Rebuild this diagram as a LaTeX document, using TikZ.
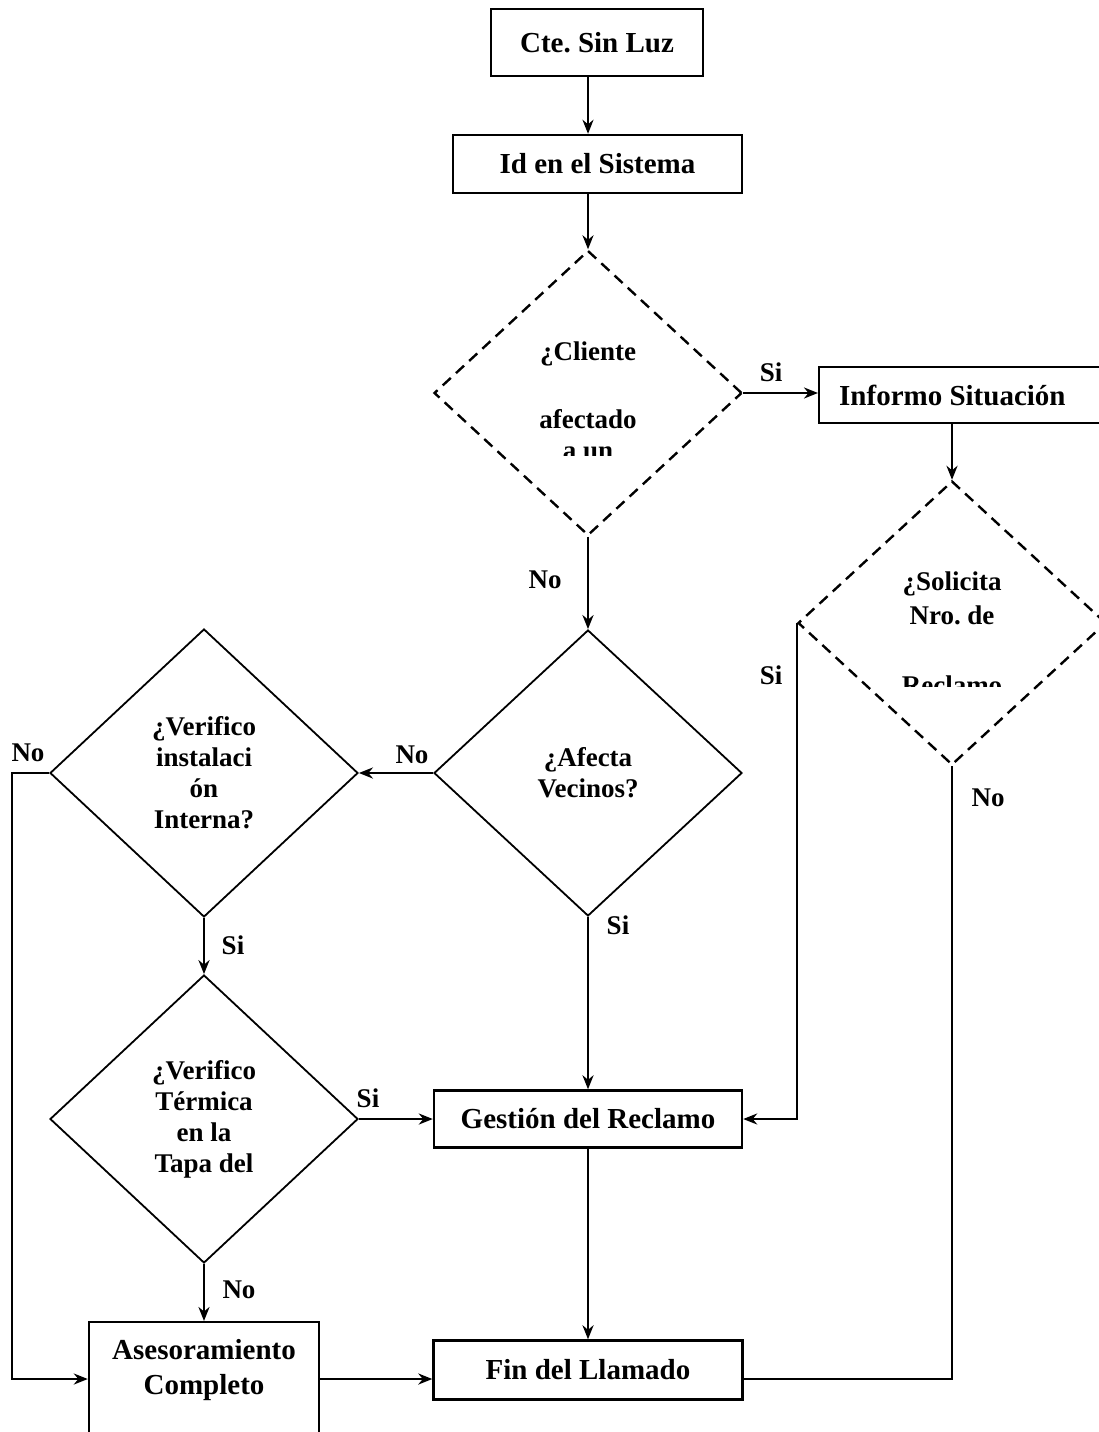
\documentclass[tikz,border=0pt]{standalone}
\usepackage{fontspec}
\setmainfont{Liberation Serif}
\frenchspacing
\usetikzlibrary{shapes.geometric}
\usetikzlibrary{arrows.meta}

\begin{document}
\begin{tikzpicture}[x=1pt, y=-1pt,
        caja/.style={rectangle, draw, line width=2.4pt, inner sep=0pt, align=center,
            font=\fontsize{29}{35}\selectfont\bfseries},
        rombo/.style={diamond, draw, line width=1.8pt, inner sep=0pt, align=center,
            minimum width=308pt, minimum height=286pt,
            font=\fontsize{27}{31}\selectfont\bfseries},
        rombodash/.style={rombo, line width=2.4pt, dash pattern=on 11pt off 7pt},
        txt/.style={inner sep=0pt, align=center, font=\fontsize{27}{31}\selectfont\bfseries},
        flecha/.style={line width=2.4pt, -{Stealth[length=14pt, width=11pt, inset=4.5pt]}},
        linea/.style={line width=2.4pt}]
        \useasboundingbox (0,0) rectangle (1099,1432);

        % Nodes
        \draw (597,42.5)   node(cte)      [caja, minimum width=212pt, minimum height=67pt] {Cte. Sin Luz};
        \draw (597.5,164)  node(id)       [caja, minimum width=289pt, minimum height=58pt] {Id en el Sistema};
        \draw (588,393)    node(cliente)  [rombodash, minimum height=285pt] {};
        \draw (818,395)    node(informo)  [caja, anchor=west, minimum height=56pt, text width=250pt,
            align=flush left, inner xsep=20pt] {Informo Situación};
        \draw (952,623)    node(solicita) [rombodash, minimum height=284pt] {};
        \draw (588,773)    node(afecta)   [rombo] {¿Afecta\\Vecinos?};
        \draw (204,773)    node(instal)   [rombo, minimum height=288pt] {¿Verifico\\instalaci\\ón\\Interna?};
        \draw (204,1119)   node(termica)  [rombo, minimum height=288pt] {¿Verifico\\Térmica\\en la\\Tapa del};
        \draw (588,1119)   node(gestion)  [caja, minimum width=308pt, minimum height=57pt] {Gestión del Reclamo};
        \draw (588,1370)   node(fin)      [caja, minimum width=309pt, minimum height=59pt] {Fin del Llamado};
        \draw (204,1321)   node(aseso)    [caja, anchor=north, minimum width=230pt, inner ysep=17pt]
            {Asesoramiento\\Completo\\[60pt]\mbox{}};

        % Texts cut by the dashed boxes
        \begin{scope}
            \clip (433,250) rectangle (741,455);
            \draw (588,341.5) node(clientetxt) [txt, anchor=north] {¿Cliente\\[37pt]afectado\\a un};
        \end{scope}
        \begin{scope}
            \clip (798,481) rectangle (1099,686);
            \draw (952,571.5) node(solicitatxt) [txt, anchor=north] {¿Solicita\\[3pt]Nro. de\\[39pt]Reclamo};
        \end{scope}

        % Labels
        \draw (771,372)  node(si1) [txt] {Si};
        \draw (545,580)  node(no1) [txt] {No};
        \draw (771,675)  node(si2) [txt] {Si};
        \draw (988,798)  node(no2) [txt] {No};
        \draw (412,755)  node(no3) [txt] {No};
        \draw (618,925)  node(si3) [txt] {Si};
        \draw (28,753)   node(no4) [txt] {No};
        \draw (233,945)  node(si4) [txt] {Si};
        \draw (368,1098) node(si5) [txt] {Si};
        \draw (239,1290) node(no5) [txt] {No};

        \coordinate (nivel) at (0,1379);
        \coordinate (vuelta) at (12,773);

        % Edges
        \draw[flecha] (cliente.north |- cte.south) -- (cliente.north |- id.north);
        \draw[flecha] (cliente.north |- id.south) -- (cliente.north);
        \draw[flecha] (cliente.east) -- (informo.west |- cliente.east);
        \draw[flecha] (solicita.north |- informo.south) -- (solicita.north);
        \draw[flecha] (solicita.west) -- (solicita.west |- gestion.east) -- (gestion.east);
        \draw[linea]  (solicita.south) |- (fin.east |- nivel);
        \draw[flecha] (cliente.south) -- (afecta.north);
        \draw[flecha] (afecta.west) -- (instal.east);
        \draw[flecha] (afecta.south) -- (gestion.north);
        \draw[flecha] (instal.west) -- (vuelta) |- (aseso.west |- nivel);
        \draw[flecha] (instal.south) -- (termica.north);
        \draw[flecha] (termica.east) -- (gestion.west);
        \draw[flecha] (termica.south) -- (aseso.north);
        \draw[flecha] (aseso.east |- nivel) -- (fin.west |- nivel);
        \draw[flecha] (gestion.south) -- (fin.north);

\end{tikzpicture}
\end{document}
